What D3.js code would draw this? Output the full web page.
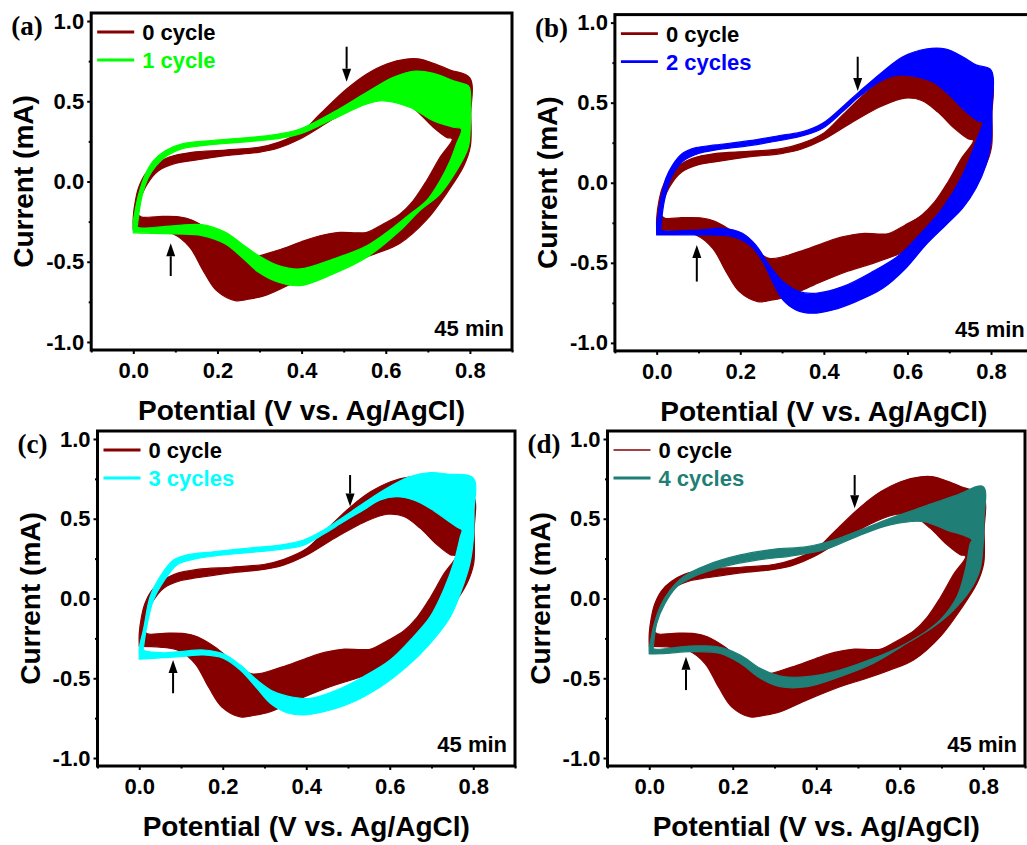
<!DOCTYPE html>
<html>
<head>
<meta charset="utf-8">
<script src="https://cdn.jsdelivr.net/npm/d3@7"></script>
<style>
  body { margin: 0; background: #fff; }
  svg { display: block; }
  text { font-family: "Liberation Sans", Arial, sans-serif; font-weight: bold; }
</style>
</head>
<body>
<svg id="fig" width="1027" height="845"></svg>
<script>
// ---- data: [potential (V), current (mA)] ----
// each band = outer envelope loop and inner envelope loop of the cycles

const redOuter = [[0.0, -0.30], [0.0, -0.22], [0.005, -0.12], [0.013, -0.036], [0.029, 0.047], [0.052, 0.105],
  [0.084, 0.151], [0.139, 0.182], [0.219, 0.196], [0.298, 0.213], [0.345, 0.244], [0.401, 0.313], [0.444, 0.421],
  [0.507, 0.576], [0.555, 0.670], [0.602, 0.732], [0.650, 0.763], [0.681, 0.763], [0.713, 0.736], [0.753, 0.695],
  [0.800, 0.645], [0.802, 0.42], [0.801, 0.22], [0.785, 0.095], [0.745, -0.072], [0.697, -0.239], [0.633, -0.386],
  [0.577, -0.448], [0.521, -0.50], [0.457, -0.553], [0.378, -0.636], [0.314, -0.71], [0.277, -0.732], [0.242, -0.742],
  [0.198, -0.68], [0.166, -0.555], [0.134, -0.409], [0.094, -0.326], [0.05, -0.305], [0.0, -0.30]];
const redInner = [[0.008, -0.20], [0.015, -0.12], [0.033, -0.016], [0.060, 0.067], [0.100, 0.113], [0.139, 0.130],
  [0.219, 0.161], [0.298, 0.182], [0.345, 0.209], [0.396, 0.265], [0.475, 0.389], [0.539, 0.479], [0.594, 0.528],
  [0.634, 0.514], [0.673, 0.441], [0.713, 0.338], [0.745, 0.275], [0.758, 0.265], [0.729, 0.151], [0.697, 0.005],
  [0.665, -0.12], [0.634, -0.202], [0.594, -0.265], [0.555, -0.317], [0.531, -0.32], [0.491, -0.317], [0.444, -0.338],
  [0.396, -0.379], [0.341, -0.43], [0.269, -0.472], [0.222, -0.388], [0.182, -0.305], [0.139, -0.24], [0.108, -0.22],
  [0.06, -0.218], [0.02, -0.222], [0.008, -0.20]];

const greenOuter = [[0.0, -0.32], [0.0, -0.25], [0.003, -0.2], [0.013, -0.078], [0.029, 0.047], [0.048, 0.13],
  [0.076, 0.192], [0.116, 0.234], [0.179, 0.254], [0.258, 0.271], [0.337, 0.292], [0.396, 0.327], [0.475, 0.431],
  [0.555, 0.556], [0.618, 0.649], [0.665, 0.687], [0.713, 0.674], [0.761, 0.628], [0.796, 0.597], [0.800, 0.576],
  [0.801, 0.358], [0.796, 0.213], [0.768, 0.067], [0.729, -0.078], [0.681, -0.181], [0.634, -0.306], [0.555, -0.472],
  [0.475, -0.576], [0.396, -0.649], [0.345, -0.628], [0.298, -0.566], [0.258, -0.472], [0.219, -0.389], [0.163, -0.337],
  [0.1, -0.327], [0.0, -0.32]];
const greenInner = [[0.01, -0.27], [0.02, -0.1], [0.035, 0.02], [0.055, 0.1], [0.08, 0.16], [0.116, 0.205],
  [0.179, 0.228], [0.258, 0.245], [0.337, 0.265], [0.396, 0.296], [0.475, 0.389], [0.555, 0.483], [0.594, 0.503],
  [0.658, 0.462], [0.713, 0.379], [0.761, 0.338], [0.78, 0.327], [0.768, 0.234], [0.753, 0.13], [0.729, 0.005],
  [0.697, -0.12], [0.658, -0.202], [0.618, -0.286], [0.555, -0.40], [0.475, -0.483], [0.396, -0.545], [0.345, -0.524],
  [0.298, -0.462], [0.258, -0.389], [0.219, -0.317], [0.163, -0.269], [0.1, -0.275], [0.01, -0.285], [0.01, -0.27]];

const blueOuter = [[0.0, -0.326], [0.0, -0.26], [0.002, -0.222], [0.01, -0.097], [0.022, 0.028], [0.038, 0.111],
  [0.062, 0.184], [0.094, 0.219], [0.142, 0.236], [0.222, 0.263], [0.302, 0.298], [0.35, 0.319], [0.397, 0.371],
  [0.445, 0.475], [0.485, 0.569], [0.541, 0.694], [0.589, 0.787], [0.644, 0.835], [0.692, 0.835], [0.732, 0.787],
  [0.764, 0.736], [0.8, 0.704], [0.802, 0.45], [0.8, 0.257], [0.788, 0.111], [0.764, -0.034], [0.732, -0.159],
  [0.692, -0.264], [0.644, -0.388], [0.596, -0.534], [0.541, -0.659], [0.477, -0.742], [0.421, -0.794], [0.373, -0.815],
  [0.333, -0.794], [0.302, -0.732], [0.277, -0.617], [0.254, -0.493], [0.222, -0.388], [0.182, -0.336], [0.102, -0.326],
  [0.046, -0.326], [0.0, -0.326]];
const blueInner = [[0.01, -0.28], [0.018, -0.118], [0.034, 0.028], [0.062, 0.132], [0.102, 0.184], [0.142, 0.205],
  [0.222, 0.232], [0.302, 0.267], [0.35, 0.294], [0.397, 0.34], [0.445, 0.444], [0.485, 0.538], [0.541, 0.642],
  [0.581, 0.673], [0.62, 0.663], [0.66, 0.631], [0.7, 0.548], [0.74, 0.444], [0.772, 0.382], [0.78, 0.382],
  [0.764, 0.257], [0.732, 0.049], [0.684, -0.159], [0.636, -0.305], [0.581, -0.451], [0.517, -0.555], [0.445, -0.649],
  [0.381, -0.69], [0.341, -0.68], [0.302, -0.617], [0.269, -0.513], [0.237, -0.388], [0.205, -0.315], [0.158, -0.284],
  [0.102, -0.295], [0.01, -0.295], [0.01, -0.28]];

const cyanOuter = [[0.0, -0.38], [0.0, -0.32], [0.002, -0.281], [0.01, -0.197], [0.026, 0.011], [0.05, 0.137],
  [0.082, 0.241], [0.114, 0.273], [0.178, 0.293], [0.258, 0.315], [0.338, 0.335], [0.394, 0.367], [0.442, 0.429],
  [0.49, 0.513], [0.537, 0.597], [0.593, 0.691], [0.649, 0.764], [0.697, 0.789], [0.737, 0.78], [0.8, 0.754],
  [0.802, 0.55], [0.8, 0.367], [0.792, 0.221], [0.772, 0.053], [0.745, -0.114], [0.697, -0.281], [0.641, -0.427],
  [0.578, -0.553], [0.505, -0.657], [0.442, -0.71], [0.394, -0.73], [0.354, -0.716], [0.314, -0.657], [0.282, -0.563],
  [0.242, -0.448], [0.202, -0.375], [0.154, -0.354], [0.098, -0.365], [0.058, -0.371], [0.0, -0.38]];
const cyanInner = [[0.01, -0.31], [0.018, -0.177], [0.034, -0.01], [0.058, 0.105], [0.09, 0.21], [0.122, 0.241],
  [0.178, 0.266], [0.258, 0.287], [0.338, 0.308], [0.394, 0.335], [0.442, 0.404], [0.49, 0.482], [0.537, 0.555],
  [0.577, 0.618], [0.617, 0.638], [0.657, 0.618], [0.697, 0.565], [0.737, 0.492], [0.761, 0.448], [0.773, 0.429],
  [0.769, 0.387], [0.753, 0.221], [0.729, 0.053], [0.697, -0.114], [0.657, -0.239], [0.601, -0.386], [0.537, -0.49],
  [0.473, -0.574], [0.41, -0.626], [0.362, -0.616], [0.322, -0.584], [0.282, -0.511], [0.242, -0.417], [0.202, -0.348],
  [0.154, -0.323], [0.098, -0.333], [0.058, -0.34], [0.01, -0.323], [0.01, -0.31]];

const tealOuter = [[0.0, -0.348], [0.0, -0.3], [0.002, -0.281], [0.01, -0.177], [0.026, -0.051], [0.05, 0.053],
  [0.082, 0.137], [0.138, 0.21], [0.218, 0.273], [0.298, 0.308], [0.378, 0.325], [0.442, 0.367], [0.505, 0.429],
  [0.577, 0.503], [0.657, 0.576], [0.737, 0.649], [0.8, 0.701], [0.802, 0.5], [0.8, 0.346], [0.792, 0.179],
  [0.769, 0.053], [0.729, -0.072], [0.681, -0.177], [0.617, -0.281], [0.537, -0.406], [0.457, -0.49], [0.378, -0.553],
  [0.314, -0.553], [0.266, -0.50], [0.218, -0.406], [0.17, -0.344], [0.098, -0.333], [0.042, -0.344], [0.0, -0.348]];
const tealInner = [[0.01, -0.302], [0.018, -0.156], [0.038, -0.03], [0.066, 0.074], [0.106, 0.137], [0.178, 0.2],
  [0.258, 0.241], [0.338, 0.266], [0.418, 0.304], [0.497, 0.388], [0.577, 0.461], [0.657, 0.482], [0.713, 0.429],
  [0.761, 0.388], [0.773, 0.367], [0.769, 0.346], [0.757, 0.179], [0.737, 0.011], [0.697, -0.135], [0.657, -0.218],
  [0.601, -0.302], [0.537, -0.375], [0.457, -0.448], [0.378, -0.49], [0.314, -0.486], [0.266, -0.438], [0.218, -0.354],
  [0.162, -0.302], [0.098, -0.298], [0.01, -0.315], [0.01, -0.302]];

// arrows: [potential, tail current, tip current]
const arrowsDown = [[0.507, 0.84, 0.622], [0.481, 0.787, 0.573], [0.505, 0.774, 0.576], [0.492, 0.774, 0.566]];
const arrowsUp = [[0.089, -0.589, -0.385], [0.096, -0.617, -0.388], [0.081, -0.594, -0.386], [0.088, -0.574, -0.365]];

const panelLetters = ['(a)', '(b)', '(c)', '(d)'];
const seriesNames = ['1 cycle', '2 cycles', '3 cycles', '4 cycles'];
const baseName = '0 cycle';
const timeLabel = '45 min';
const xTicks = [0, 0.2, 0.4, 0.6, 0.8];
const xMinor = [-0.1, 0.1, 0.3, 0.5, 0.7, 0.9];
const yTicks = [-1, -0.5, 0, 0.5, 1];
const yMinor = [-0.75, -0.25, 0.25, 0.75];
const xTitle = 'Potential (V vs. Ag/AgCl)';
const yTitle = 'Current (mA)';

const RED = '#870000';

const panels = [
  {left: 91.2, top: 13, w: 420.8, h: 337, color: '#00ff00', outer: greenOuter, inner: greenInner, legW: 2.8},
  {left: 614.9, top: 14.6, w: 417.9, h: 336.3, color: '#0000ff', outer: blueOuter, inner: blueInner, legW: 2.8},
  {left: 97.5, top: 431, w: 417.5, h: 335, color: '#00ffff', outer: cyanOuter, inner: cyanInner, legW: 2.8},
  {left: 607.5, top: 431, w: 417.5, h: 335, color: '#1f7f77', outer: tealOuter, inner: tealInner, legW: 1.5}
];

const svg = d3.select('#fig');

panels.forEach((p, i) => {
  const g = svg.append('g').attr('transform', `translate(${p.left},${p.top})`);
  const x = d3.scaleLinear().domain([-0.1, 0.9]).range([0, p.w]);
  const y = d3.scaleLinear().domain([-1.05, 1.05]).range([p.h, 0]);

  const line = d3.line()
    .x(d => x(d[0]))
    .y(d => y(d[1]))
    .curve(d3.curveCatmullRom.alpha(0.5));

  const band = (outer, inner) => line(outer) + 'Z' + line(inner) + 'Z';

  // 0 cycle band first, then the treated electrode on top
  g.append('path')
    .attr('d', band(redOuter, redInner))
    .attr('fill', RED)
    .attr('fill-rule', 'evenodd')
    .attr('stroke', RED)
    .attr('stroke-width', 1.2)
    .attr('stroke-linejoin', 'round');

  g.append('path')
    .attr('d', band(p.outer, p.inner))
    .attr('fill', p.color)
    .attr('fill-rule', 'evenodd')
    .attr('stroke', p.color)
    .attr('stroke-width', 1.2)
    .attr('stroke-linejoin', 'round');

  // arrows
  const drawArrow = (a, dir) => {
    const ax = x(a[0]);
    const y0 = y(a[1]);
    const y1 = y(a[2]);
    const head = 13 * dir;
    g.append('line')
      .attr('x1', ax).attr('x2', ax)
      .attr('y1', y0).attr('y2', y1 - head)
      .attr('stroke', '#000').attr('stroke-width', 2);
    g.append('path')
      .attr('d', `M${ax},${y1}L${ax - 4.5},${y1 - head}L${ax + 4.5},${y1 - head}Z`)
      .attr('fill', '#000');
  };
  drawArrow(arrowsDown[i], 1);
  drawArrow(arrowsUp[i], -1);

  // axes
  const fmt = d => d.toFixed(1);
  g.append('g')
    .call(d3.axisLeft(y).tickValues(yTicks).tickFormat(fmt).tickSize(4).tickSizeOuter(0).tickPadding(3));
  g.append('g')
    .call(d3.axisLeft(y).tickValues(yMinor).tickFormat('').tickSize(2.5).tickSizeOuter(0));
  g.append('g')
    .attr('transform', `translate(0,${p.h})`)
    .call(d3.axisBottom(x).tickValues(xTicks).tickFormat(fmt).tickSize(4).tickSizeOuter(0).tickPadding(8));
  g.append('g')
    .attr('transform', `translate(0,${p.h})`)
    .call(d3.axisBottom(x).tickValues(xMinor).tickFormat('').tickSize(2.5).tickSizeOuter(0));

  g.selectAll('.domain').remove();
  g.selectAll('.tick line').attr('stroke', '#000').attr('stroke-width', 2);
  g.selectAll('.tick text')
    .attr('fill', '#000')
    .style('font-size', '22px')
    .style('font-family', '"Liberation Sans", Arial, sans-serif')
    .style('font-weight', 'bold');

  // frame
  g.append('rect')
    .attr('width', p.w).attr('height', p.h)
    .attr('fill', 'none')
    .attr('stroke', '#000')
    .attr('stroke-width', 3);

  // axis titles
  g.append('text')
    .attr('x', p.w / 2).attr('y', p.h + 70)
    .attr('text-anchor', 'middle')
    .style('font-size', '28px')
    .text(xTitle);
  g.append('text')
    .attr('transform', `translate(-58,${p.h / 2}) rotate(-90)`)
    .attr('text-anchor', 'middle')
    .style('font-size', '28px')
    .text(yTitle);

  // panel letter
  g.append('text')
    .attr('x', -80).attr('y', 22)
    .style('font-family', '"Liberation Serif", "Times New Roman", serif')
    .style('font-size', '27px')
    .text(panelLetters[i]);

  // legend
  const legend = [[baseName, RED, '#000', p.legW], [seriesNames[i], p.color, p.color, 2.8]];
  legend.forEach((l, j) => {
    const ly = 19 + j * 28;
    g.append('line')
      .attr('x1', 6).attr('x2', 43)
      .attr('y1', ly).attr('y2', ly)
      .attr('stroke', l[1])
      .attr('stroke-width', l[3]);
    g.append('text')
      .attr('x', 51).attr('y', ly)
      .attr('dy', '0.36em')
      .attr('fill', l[2])
      .style('font-size', '22px')
      .text(l[0]);
  });

  g.append('text')
    .attr('x', p.w - 8).attr('y', p.h - 14)
    .attr('text-anchor', 'end')
    .style('font-size', '22px')
    .text(timeLabel);
});
</script>
</body>
</html>
